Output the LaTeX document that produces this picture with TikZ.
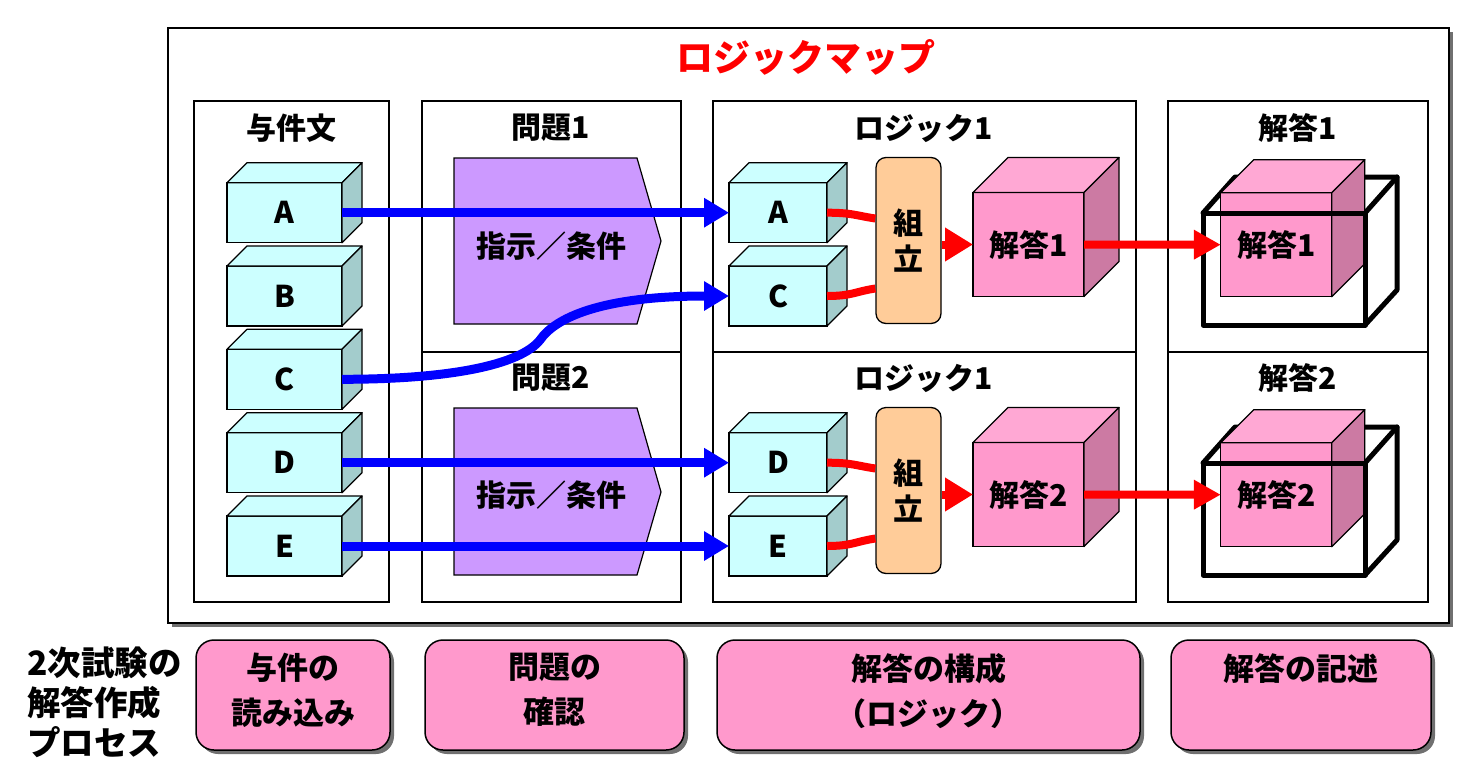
\documentclass[tikz,border=0pt]{standalone}
\usepackage{fontspec}
\setmainfont{Noto Sans CJK JP}
\usetikzlibrary{arrows.meta}
\definecolor{cyanF}{HTML}{CCFFFF}
\definecolor{cyanT}{HTML}{CCFFFF}
\definecolor{cyanS}{HTML}{A3CCCC}
\definecolor{pinkF}{HTML}{FF99CC}
\definecolor{pinkT}{HTML}{FFA8D4}
\definecolor{pinkS}{HTML}{CC7AA3}
\definecolor{purp}{HTML}{CC99FF}
\definecolor{orng}{HTML}{FFCC99}
\definecolor{shad}{HTML}{707070}
\newcommand{\fhead}{\fontsize{30pt}{36pt}\selectfont\bfseries}
\newcommand{\fttl}{\fontsize{37pt}{40pt}\selectfont\bfseries}
\newcommand{\flab}{\fontsize{30pt}{32pt}\selectfont\bfseries}
\newcommand{\fside}{\fontsize{33.5pt}{40pt}\selectfont\bfseries}
\newcommand{\fbot}{\fontsize{31pt}{45pt}\selectfont\bfseries}
\newcommand{\mkcube}[9]{%
 \node[draw, line width=1.3pt, fill=#7F, minimum width=#4pt, minimum height=#5pt, inner sep=0pt, outer sep=0pt, font=#9] (#1) at (#2,#3) {#8};
 \draw[line width=1.3pt, fill=#7T, line join=round] (#1.north west) -- ([shift={(#6pt,#6pt)}]#1.north west) -- ([shift={(#6pt,#6pt)}]#1.north east) -- (#1.north east) -- cycle;
 \draw[line width=1.3pt, fill=#7S, line join=round] (#1.north east) -- ([shift={(#6pt,#6pt)}]#1.north east) -- ([shift={(#6pt,#6pt)}]#1.south east) -- (#1.south east) -- cycle;
}
\tikzset{
 colbox/.style={draw, line width=1.2pt},
 head/.style={font=\fhead, inner sep=0pt},
 bluearr/.style={draw=blue, line width=9pt, -{Triangle[length=25pt,width=28pt]}},
 redarr/.style={draw=red, line width=8pt, -{Triangle[length=27pt,width=28pt]}},
 bigred/.style={draw=red, line width=8pt, -{Triangle[length=28pt,width=32pt]}},
 redline/.style={draw=red, line width=8pt},
 kumi/.style={draw, line width=1.3pt, fill=orng, rounded corners=10pt, minimum width=65pt, minimum height=166pt, inner sep=0pt, align=center, font=\fontsize{30pt}{36pt}\selectfont\bfseries},
 pent/.style={draw, line width=1.2pt, fill=purp},
 wire/.style={draw, line width=5pt, line join=round, line cap=round},
 botbox/.style={draw, line width=1.5pt, fill=pinkF, rounded corners=18pt, inner sep=0pt},
 botshadow/.style={fill=shad, rounded corners=18pt},
 bottxt/.style={font=\fbot, align=center, anchor=north, inner sep=0pt},
}
\begin{document}
\begin{tikzpicture}[x=1pt,y=-1pt]
\useasboundingbox (0,0) rectangle (1472,782);
\fill[white] (0,0) rectangle (1472,782);
% outer frame
\fill[shad] (172,32) rectangle (1453,627);
\draw[line width=1.5pt, fill=white] (168,28) rectangle (1449,623);
\node[font=\fttl, text=red, inner sep=0pt] (ttl) at (806,57) {ロジックマップ};
% column boxes
\draw[colbox] (194,101) rectangle (389,602);
\draw[colbox] (422,101) rectangle (681,352);
\draw[colbox] (422,352) rectangle (681,602);
\draw[colbox] (713,101) rectangle (1136,352);
\draw[colbox] (713,352) rectangle (1136,602);
\draw[colbox] (1168,101) rectangle (1428,352);
\draw[colbox] (1168,352) rectangle (1428,602);
% headings
\node[head] (h1) at (291.5,128) {与件文};
\node[head] (h2) at (551,128) {問題1};
\node[head] (h3) at (551,378) {問題2};
\node[head] (h4) at (924,128) {ロジック1};
\node[head] (h5) at (924,378) {ロジック1};
\node[head] (h6) at (1298,128) {解答1};
\node[head] (h7) at (1298,378) {解答2};
% problem pentagons
\draw[pent] (454,158) -- (637,158) -- (661,241) -- (637,324) -- (454,324) -- cycle;
\node[head] (ins1) at (551,246) {指示／条件};
\draw[pent] (454,408) -- (637,408) -- (661,492) -- (637,575) -- (454,575) -- cycle;
\node[head] (ins2) at (551,495) {指示／条件};
% source cubes
\mkcube{A1}{284.5}{212.7}{115}{60}{20}{cyan}{A}{\flab}
\mkcube{B1}{284.5}{296}{115}{60}{20}{cyan}{B}{\flab}
\mkcube{C1}{284.5}{379.3}{115}{60}{20}{cyan}{C}{\flab}
\mkcube{D1}{284.5}{462.7}{115}{60}{20}{cyan}{D}{\flab}
\mkcube{E1}{284.5}{546}{115}{60}{20}{cyan}{E}{\flab}
% logic cubes
\mkcube{A3}{778}{212.7}{98}{60}{20}{cyan}{A}{\flab}
\mkcube{C3}{778}{296}{98}{60}{20}{cyan}{C}{\flab}
\mkcube{D3}{778}{462.7}{98}{60}{20}{cyan}{D}{\flab}
\mkcube{E3}{778}{546}{98}{60}{20}{cyan}{E}{\flab}
% kumitate
\node[kumi] (k1) at (908.5,240.5) {組\\立};
\node[kumi] (k2) at (908.5,490.5) {組\\立};
% answer cubes
\mkcube{ans1}{1028.5}{244.5}{111}{104}{35}{pink}{解答1}{\fhead}
\mkcube{ans2}{1028.5}{494.5}{111}{104}{35}{pink}{解答2}{\fhead}
% answer boxes (wire) back lines
\draw[wire] (1203,213) -- (1235,177) -- (1397,177) -- (1397,290) -- (1365,325);
\draw[wire] (1397,177) -- (1365,213);
\draw[wire] (1203,463) -- (1235,427) -- (1397,427) -- (1397,540) -- (1365,575);
\draw[wire] (1397,427) -- (1365,463);
\mkcube{fin1}{1276.3}{244.7}{111}{104}{33}{pink}{解答1}{\fhead}
\mkcube{fin2}{1276.3}{494.7}{111}{104}{33}{pink}{解答2}{\fhead}
\draw[wire] (1203,213) rectangle (1365,325);
\draw[wire] (1203,463) rectangle (1365,575);
% blue connectors
\draw[bluearr] (A1.east) -- (A3.west);
\draw[bluearr] (D1.east) -- (D3.west);
\draw[bluearr] (E1.east) -- (E3.west);
\coordinate (cmid) at (540,340);
\draw[bluearr] (C1.east) .. controls +(108,0) and (520,365) .. (cmid) .. controls (555,318) and +(-128,0) .. (C3.west);
% red connectors
\draw[redline] (A3.east) .. controls +(25,0) and +(-20,-3) .. ([yshift=22pt]k1.west);
\draw[redline] (C3.east) .. controls +(25,0) and +(-20,3) .. ([yshift=-48pt]k1.west);
\draw[redline] (D3.east) .. controls +(25,0) and +(-20,-3) .. ([yshift=22pt]k2.west);
\draw[redline] (E3.east) .. controls +(25,0) and +(-20,3) .. ([yshift=-48pt]k2.west);
\draw[bigred] (k1.east |- ans1.west) -- (ans1.west);
\draw[bigred] (k2.east |- ans2.west) -- (ans2.west);
\draw[redarr] (ans1.east) -- (fin1.west);
\draw[redarr] (ans2.east) -- (fin2.west);
% bottom process
\node[font=\fside, align=left, anchor=west, inner sep=0pt] (proc) at (27,702) {2次試験の\\解答作成\\プロセス};
\fill[botshadow] (200,644) rectangle (394,754);
\fill[botshadow] (429,644) rectangle (688,754);
\fill[botshadow] (721,644) rectangle (1144,754);
\fill[botshadow] (1175,644) rectangle (1435,754);
\node[botbox, minimum width=194pt, minimum height=110pt] (p1) at (293,695) {};
\node[botbox, minimum width=259pt, minimum height=110pt] (p2) at (554.5,695) {};
\node[botbox, minimum width=423pt, minimum height=110pt] (p3) at (928.5,695) {};
\node[botbox, minimum width=260pt, minimum height=110pt] (p4) at (1301,695) {};
\node[bottxt] (t1) at (293,653) {与件の\\読み込み};
\node[bottxt] (t2) at (554.5,653) {問題の\\確認};
\node[bottxt] (t3) at (928.5,653) {解答の構成\\（ロジック）};
\node[bottxt] (t4) at (1301,653) {解答の記述};
\end{tikzpicture}
\end{document}
